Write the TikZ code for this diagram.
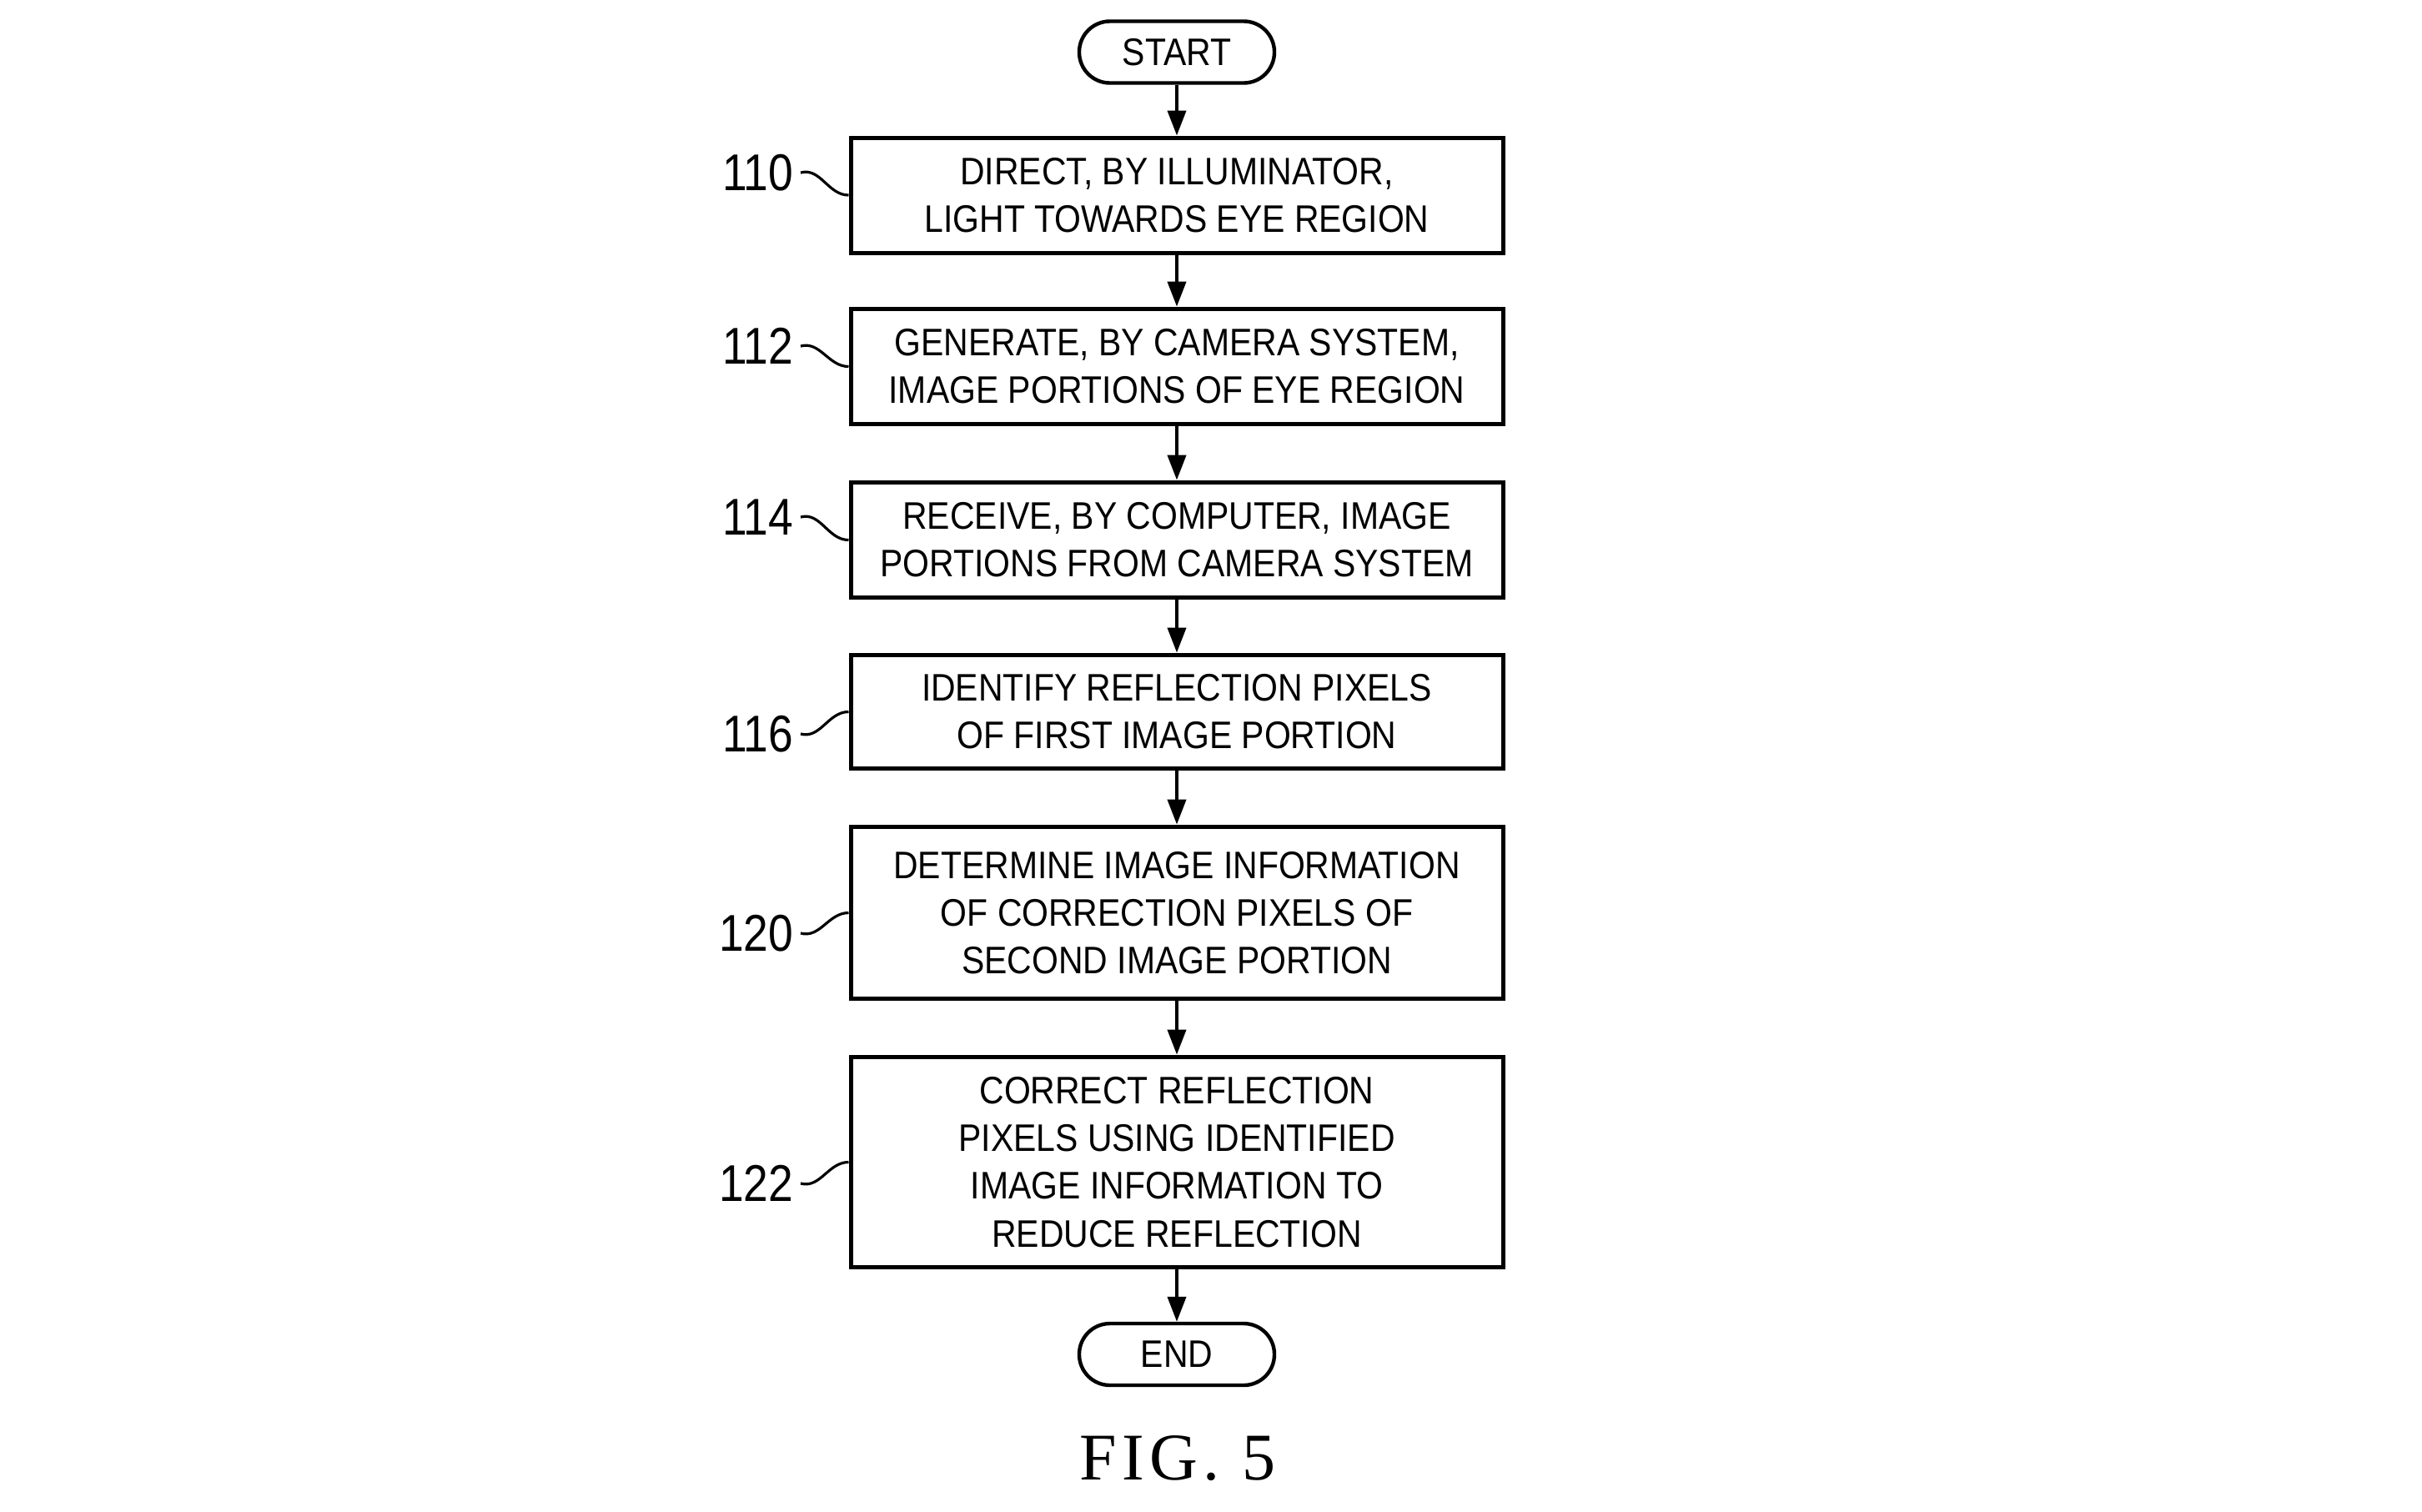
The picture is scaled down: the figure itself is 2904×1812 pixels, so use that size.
\documentclass[tikz,border=0pt]{standalone}
\usepackage{fontspec}
\usetikzlibrary{arrows.meta}
\newfontfamily\boxfont{Liberation Sans}[FakeStretch=0.89]
\newfontfamily\lblfont{Liberation Sans}[FakeStretch=0.86]
\newfontfamily\figfont{Liberation Serif}[LetterSpace=8]
\begin{document}
\begin{tikzpicture}[x=0.25pt,y=0.25pt,
  every node/.style={inner sep=0pt},
  stepbox/.style={draw, line width=1.25pt, minimum width=195.5pt, align=center,
    font=\boxfont\fontsize{11.5pt}{14.3pt}\selectfont},
  termbox/.style={draw, line width=1.1pt, minimum width=58.5pt, minimum height=18.5pt,
    rounded corners=9.2pt, font=\boxfont\fontsize{11.5pt}{14.3pt}\selectfont},
  reflabel/.style={anchor=east, inner sep=2pt, font=\lblfont\fontsize{15.5pt}{18pt}\selectfont},
  flow/.style={line width=1pt, -{Triangle[length=7.5pt,width=5.5pt]}},
  leader/.style={line width=0.8pt}
]
\useasboundingbox (0,0) rectangle (2904,-1812);
\node[termbox] (start) at (1411,-62.5) {START};
\node[stepbox, minimum height=34.5pt] (b1) at (1411,-234) {DIRECT, BY ILLUMINATOR,\\LIGHT TOWARDS EYE REGION};
\node[stepbox, minimum height=34.7pt] (b2) at (1411,-439.5) {GENERATE, BY CAMERA SYSTEM,\\IMAGE PORTIONS OF EYE REGION};
\node[stepbox, minimum height=34.7pt] (b3) at (1411,-647.5) {RECEIVE, BY COMPUTER, IMAGE\\PORTIONS FROM CAMERA SYSTEM};
\node[stepbox, minimum height=34.2pt] (b4) at (1411,-853.5) {IDENTIFY REFLECTION PIXELS\\OF FIRST IMAGE PORTION};
\node[stepbox, minimum height=51.7pt] (b5) at (1411,-1094.5) {DETERMINE IMAGE INFORMATION\\OF CORRECTION PIXELS OF\\SECOND IMAGE PORTION};
\node[stepbox, minimum height=63.2pt] (b6) at (1411,-1393.5) {CORRECT REFLECTION\\PIXELS USING IDENTIFIED\\IMAGE INFORMATION TO\\REDUCE REFLECTION};
\node[termbox] (end) at (1411,-1624) {END};
\node[font=\figfont\fontsize{20pt}{24pt}\selectfont] (fig) at (1412,-1749) {FIG. 5};

\draw[flow] (start) -- (b1);
\draw[flow] (b1) -- (b2);
\draw[flow] (b2) -- (b3);
\draw[flow] (b3) -- (b4);
\draw[flow] (b4) -- (b5);
\draw[flow] (b5) -- (b6);
\draw[flow] (b6) -- (end);

\node[reflabel] (l110) at (960,-207) {110};
\node[reflabel] (l112) at (960,-415) {112};
\node[reflabel] (l114) at (960,-620) {114};
\node[reflabel] (l116) at (960,-880) {116};
\node[reflabel] (l120) at (960,-1119) {120};
\node[reflabel] (l122) at (960,-1419) {122};

\draw[leader] (l110.east) to[out=15,in=180] (b1.west);
\draw[leader] (l112.east) to[out=15,in=180] (b2.west);
\draw[leader] (l114.east) to[out=15,in=180] (b3.west);
\draw[leader] (l116.east) to[out=-15,in=180] (b4.west);
\draw[leader] (l120.east) to[out=-15,in=180] (b5.west);
\draw[leader] (l122.east) to[out=-15,in=180] (b6.west);
\end{tikzpicture}
\end{document}
